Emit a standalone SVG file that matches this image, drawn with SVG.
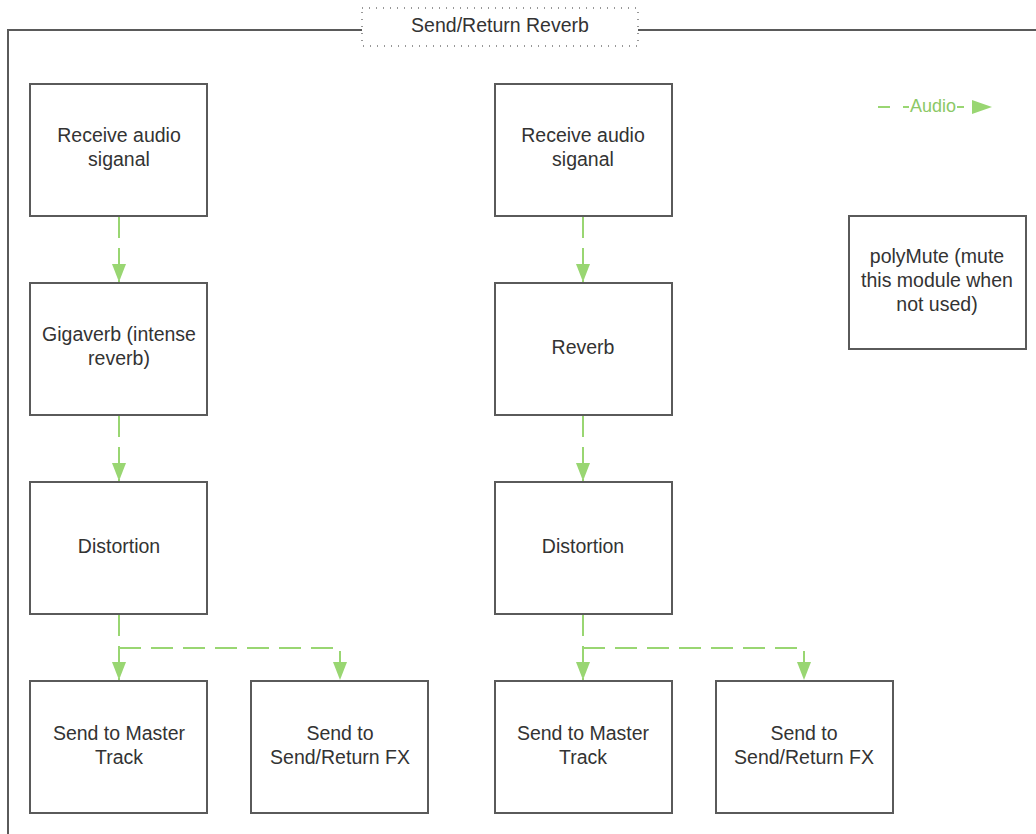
<svg xmlns="http://www.w3.org/2000/svg" width="1036" height="834" viewBox="0 0 1036 834">
<defs>
<marker id="ah" viewBox="0 0 18 14" refX="18" refY="7" markerWidth="18" markerHeight="14" markerUnits="userSpaceOnUse" orient="auto">
<path d="M0,0 L18,7 L0,14 Z" fill="#99d672"/>
</marker>
<style>
.box{fill:#fff;stroke:#5a5a5a;stroke-width:2}
.t{font-family:"Liberation Sans",Arial,sans-serif;font-size:19.5px;fill:#333;text-anchor:middle}
.c{fill:none;stroke:#99d672;stroke-width:2;stroke-dasharray:22 10}
</style>
</defs>
<rect width="1036" height="834" fill="#fff"/>
<g id="frame">
<path d="M8,840 L8,30 L362,30 M638,30 L1040,30" fill="none" stroke="#5a5a5a" stroke-width="2"/>
<rect x="362" y="8" width="276" height="38" fill="#fff" stroke="#777" stroke-width="1.5" stroke-dasharray="1 6"/>
<text class="t" x="500" y="32">Send/Return Reverb</text>
</g>
<g id="connectors">
<path class="c" d="M119,216 V282" marker-end="url(#ah)"/>
<path class="c" d="M119,415 V481" marker-end="url(#ah)"/>
<path class="c" d="M119,614 V680" marker-end="url(#ah)"/>
<path class="c" d="M119,648 H340 V680" marker-end="url(#ah)"/>
<path class="c" d="M583,216 V282" marker-end="url(#ah)"/>
<path class="c" d="M583,415 V481" marker-end="url(#ah)"/>
<path class="c" d="M583,614 V680" marker-end="url(#ah)"/>
<path class="c" d="M583,648 H804 V680" marker-end="url(#ah)"/>
</g>
<g id="legend">
<path d="M878,107 H890 M903,107 H909 M957,107 H964" stroke="#99d672" stroke-width="2"/>
<path d="M972,100 L992,107 L972,114 Z" fill="#99d672"/>
<text x="933" y="112" font-family="'Liberation Sans',Arial,sans-serif" font-size="18" fill="#8cc866" text-anchor="middle">Audio</text>
</g>
<g id="n1"><rect class="box" x="30" y="84" width="177" height="132"/><text class="t" x="119" y="142">Receive audio</text><text class="t" x="119" y="166">siganal</text></g>
<g id="n2"><rect class="box" x="30" y="283" width="177" height="132"/><text class="t" x="119" y="341">Gigaverb (intense</text><text class="t" x="119" y="365">reverb)</text></g>
<g id="n3"><rect class="box" x="30" y="482" width="177" height="132"/><text class="t" x="119" y="553">Distortion</text></g>
<g id="n4"><rect class="box" x="30" y="681" width="177" height="132"/><text class="t" x="119" y="740">Send to Master</text><text class="t" x="119" y="764">Track</text></g>
<g id="n5"><rect class="box" x="251" y="681" width="177" height="132"/><text class="t" x="340" y="740">Send to</text><text class="t" x="340" y="764">Send/Return FX</text></g>
<g id="n6"><rect class="box" x="495" y="84" width="177" height="132"/><text class="t" x="583" y="142">Receive audio</text><text class="t" x="583" y="166">siganal</text></g>
<g id="n7"><rect class="box" x="495" y="283" width="177" height="132"/><text class="t" x="583" y="354">Reverb</text></g>
<g id="n8"><rect class="box" x="495" y="482" width="177" height="132"/><text class="t" x="583" y="553">Distortion</text></g>
<g id="n9"><rect class="box" x="495" y="681" width="177" height="132"/><text class="t" x="583" y="740">Send to Master</text><text class="t" x="583" y="764">Track</text></g>
<g id="n10"><rect class="box" x="716" y="681" width="177" height="132"/><text class="t" x="804" y="740">Send to</text><text class="t" x="804" y="764">Send/Return FX</text></g>
<g id="n11"><rect class="box" x="849" y="216" width="177" height="133"/><text class="t" x="937" y="263">polyMute (mute</text><text class="t" x="937" y="287">this module when</text><text class="t" x="937" y="311">not used)</text></g>
</svg>
